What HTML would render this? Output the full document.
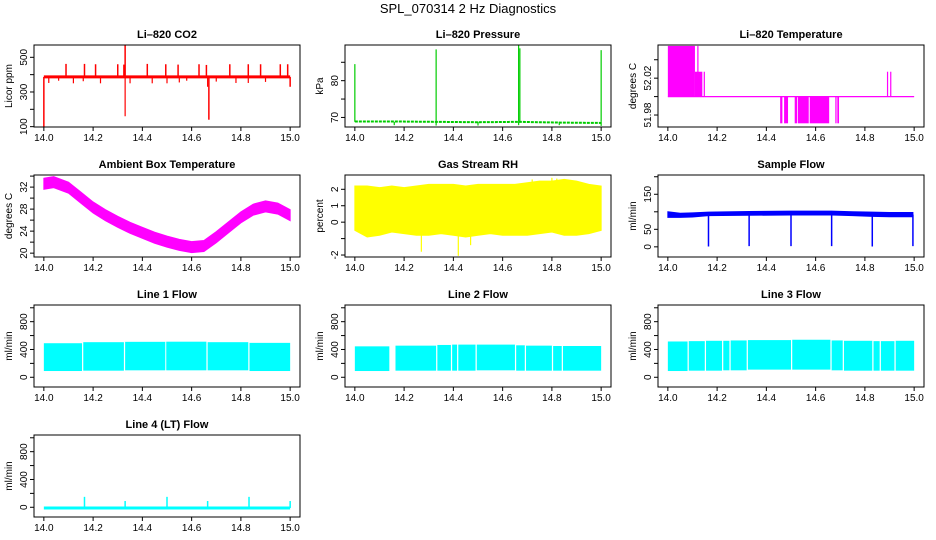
<!DOCTYPE html>
<html><head><meta charset="utf-8"><style>
html,body{margin:0;padding:0;background:#fff;}
svg{display:block;font-family:"Liberation Sans",Helvetica,Arial,sans-serif;}
</style></head><body>
<svg id="fig" width="936" height="540" viewBox="0 0 936 540">
<text x="468" y="13" font-size="13" text-anchor="middle">SPL_070314  2 Hz Diagnostics</text>
</svg>
<script>
// ---------- data ----------
const xTicks = [14.0, 14.2, 14.4, 14.6, 14.8, 15.0];
const xTickLabels = ["14.0", "14.2", "14.4", "14.6", "14.8", "15.0"];

// CO2
const co2Base = 387;
const co2SpikeX = [14.0, 14.09, 14.165, 14.21, 14.30, 14.325, 14.33, 14.42, 14.495, 14.545, 14.63, 14.66, 14.67, 14.755, 14.83, 14.88, 14.96, 14.99, 15.0];
const co2SpikeV = [100, 462, 462, 460, 460, 458, 572, 462, 460, 458, 460, 456, 140, 460, 460, 460, 460, 460, 330];
const co2DipX = [14.02, 14.06, 14.12, 14.16, 14.23, 14.33, 14.35, 14.44, 14.5, 14.55, 14.58, 14.665, 14.7, 14.78, 14.83, 14.9];
const co2DipV = [352, 365, 350, 362, 350, 160, 350, 350, 350, 355, 365, 330, 360, 352, 352, 358];

// Pressure
const presBaseX = [14.0, 14.16, 14.33, 14.5, 14.665, 14.83, 15.0];
const presBaseV = [68.9, 68.9, 68.8, 68.7, 68.8, 68.6, 68.5];
const presSpikeX = [14.0, 14.33, 14.665, 14.67, 15.0];
const presSpikeV = [84.5, 88.5, 89.6, 88.8, 88.3];
const presDipX = [14.16, 14.33, 14.5, 14.665, 14.83, 15.0];
const presDipV = [67.9, 67.8, 67.8, 67.9, 67.9, 67.7];

// Li-820 temperature
const tempBlockX0 = [14.0, 14.11, 14.456, 14.472, 14.515, 14.528, 14.576, 14.68, 14.688];
const tempBlockX1 = [14.11, 14.14, 14.465, 14.488, 14.525, 14.572, 14.655, 14.685, 14.695];
const tempBlockLo = [52.0, 52.0, 51.971, 51.971, 51.971, 51.971, 51.971, 51.971, 51.971];
const tempBlockHi = [52.055, 52.027, 52.0, 52.0, 52.0, 52.0, 52.0, 52.0, 52.0];
const tempLineX = [14.122, 14.148, 14.892, 14.905];
const tempLineV = [52.055, 52.027, 52.027, 52.027];
const tempBase = 52.0;

// Ambient box temp (band centre)
const ambX = [14.0, 14.04, 14.1, 14.15, 14.2, 14.25, 14.3, 14.35, 14.4, 14.45, 14.5, 14.55, 14.6, 14.65, 14.7, 14.75, 14.8, 14.85, 14.9, 14.95, 15.0];
const ambV = [32.6, 32.9, 31.9, 30.1, 28.3, 26.9, 25.7, 24.6, 23.7, 22.8, 22.1, 21.5, 21.1, 21.3, 22.9, 24.7, 26.5, 27.9, 28.5, 28.1, 26.9];

// RH envelope
const rhX = [14.0, 14.05, 14.1, 14.15, 14.2, 14.25, 14.3, 14.35, 14.4, 14.45, 14.5, 14.55, 14.6, 14.65, 14.7, 14.75, 14.8, 14.85, 14.9, 14.95, 15.0];
const rhHi = [2.2, 2.2, 2.1, 2.2, 2.1, 2.2, 2.3, 2.3, 2.3, 2.2, 2.3, 2.3, 2.3, 2.3, 2.4, 2.5, 2.5, 2.6, 2.5, 2.3, 2.2];
const rhLo = [-0.5, -0.9, -0.8, -0.6, -0.7, -0.8, -0.8, -0.7, -0.8, -0.9, -0.8, -0.7, -0.8, -0.8, -0.8, -0.7, -0.6, -0.8, -0.8, -0.7, -0.5];
const rhSpikeX = [14.27, 14.42, 14.47, 14.72, 14.8, 14.82];
const rhSpikeV = [-1.8, -2.05, -1.4, 2.6, 2.7, 2.65];

// Sample flow
const sfX = [14.0, 14.05, 14.1, 14.165, 14.33, 14.5, 14.665, 14.75, 14.83, 14.9, 14.995];
const sfLo = [84, 84, 85, 89, 90, 91, 91, 89, 87, 86, 86];
const sfHi = [100, 96, 97, 99, 101, 102, 102, 100, 99, 98, 98];
const sfDipX = [14.165, 14.33, 14.5, 14.665, 14.83, 14.995];
const sfDipV = [1, 2, 2, 2, 1, 2];

// Line flows (bands with gaps)
const l1SegX0 = [14.0, 14.16, 14.33, 14.497, 14.665, 14.835];
const l1SegX1 = [14.155, 14.325, 14.493, 14.66, 14.83, 15.0];
const l1Hi = [490, 505, 510, 512, 505, 495];
const l1Lo = [90, 95, 100, 100, 100, 90];
const l2SegX0 = [14.0, 14.165, 14.335, 14.395, 14.42, 14.495, 14.655, 14.695, 14.805, 14.845];
const l2SegX1 = [14.14, 14.33, 14.39, 14.415, 14.49, 14.65, 14.69, 14.8, 14.84, 15.0];
const l2Hi = [445, 455, 465, 470, 470, 470, 460, 455, 450, 450];
const l2Lo = [90, 95, 95, 95, 95, 100, 95, 95, 95, 95];
const l3SegX0 = [14.0, 14.085, 14.155, 14.225, 14.255, 14.325, 14.505, 14.665, 14.715, 14.835, 14.865, 14.925];
const l3SegX1 = [14.08, 14.15, 14.22, 14.25, 14.32, 14.5, 14.66, 14.71, 14.83, 14.86, 14.92, 15.0];
const l3Hi = [515, 520, 525, 525, 530, 535, 540, 530, 525, 520, 520, 525];
const l3Lo = [90, 95, 95, 100, 100, 110, 110, 100, 95, 95, 95, 95];
const l4Base = -10;
const l4SpikeX = [14.165, 14.33, 14.5, 14.665, 14.833, 15.0];
const l4SpikeV = [150, 90, 150, 90, 150, 90];

// ---------- drawing ----------
const NS = "http://www.w3.org/2000/svg";
const svg = document.getElementById("fig");
const XLIM = [13.96, 15.04];
const COLS = [34, 345, 658], ROWS = [45, 175, 305, 435], W = 266, H = 82;

function mk(tag, attrs, parent) {
  const e = document.createElementNS(NS, tag);
  for (const k in attrs) e.setAttribute(k, attrs[k]);
  (parent || svg).appendChild(e);
  return e;
}

function panel(name, col, row, title, ylab, ylim, yticks, ylabels) {
  const L = COLS[col], T = ROWS[row];
  const g = mk("g", {});
  
  
  const sx = v => L + (v - XLIM[0]) / (XLIM[1] - XLIM[0]) * W;
  const sy = v => T + H - (v - ylim[0]) / (ylim[1] - ylim[0]) * H;
  const plot = mk("g", {}, g);
  
  
  const box = mk("rect", {x: L, y: T, width: W, height: H, fill: "none", stroke: "#000", "stroke-width": 1}, g);
  
  
  const tt = mk("text", {x: L + W / 2, y: T - 7, "font-size": 11, "font-weight": "bold", "text-anchor": "middle"}, g);
  tt.textContent = title;
  
  
  const xa = mk("g", {}, g);
  
  
  xTicks.forEach((v, i) => {
    mk("line", {x1: sx(v), x2: sx(v), y1: T + H, y2: T + H + 4, stroke: "#000"}, xa);
    const t = mk("text", {x: sx(v), y: T + H + 14, "font-size": 10, "text-anchor": "middle"}, xa);
    t.textContent = xTickLabels[i];
  });
  const ya = mk("g", {}, g);
  
  
  yticks.forEach(v => {
    mk("line", {x1: L - 4, x2: L, y1: sy(v), y2: sy(v), stroke: "#000"}, ya);
  });
  ylabels.forEach(v => {
    const t = mk("text", {x: 0, y: 0, "font-size": 10, "text-anchor": "middle",
      transform: `translate(${L - 7},${sy(v)}) rotate(-90)`}, ya);
    t.textContent = String(v);
  });
  const yl = mk("text", {x: 0, y: 0, "font-size": 10, "text-anchor": "middle",
    transform: `translate(${L - 22},${T + H / 2}) rotate(-90)`}, g);
  yl.textContent = ylab;
  
  
  return {sx, sy, g: plot};
}

function vline(p, x, v0, v1, color, w) {
  return mk("line", {x1: p.sx(x), x2: p.sx(x), y1: p.sy(v0), y2: p.sy(v1), stroke: color, "stroke-width": w || 1}, p.g);
}
function band(p, xs, lo, hi, color) {
  let d = "M" + xs.map((x, i) => p.sx(x) + "," + p.sy(hi[i])).join("L");
  for (let i = xs.length - 1; i >= 0; i--) d += "L" + p.sx(xs[i]) + "," + p.sy(lo[i]);
  return mk("path", {d: d + "Z", fill: color, stroke: color, "stroke-width": 1}, p.g);
}
function rectv(p, x0, x1, lo, hi, color) {
  return mk("rect", {x: p.sx(x0), y: p.sy(hi), width: Math.max(1, p.sx(x1) - p.sx(x0)), height: p.sy(lo) - p.sy(hi), fill: color}, p.g);
}

// CO2
let p = panel("co2", 0, 0, "Li–820 CO2", "Licor ppm", [98, 571], [100, 200, 300, 400, 500], [100, 300, 500]);
mk("line", {x1: p.sx(14.0), x2: p.sx(15.0), y1: p.sy(co2Base), y2: p.sy(co2Base), stroke: "red", "stroke-width": 3}, p.g);
co2SpikeX.forEach((x, i) => vline(p, x, co2Base, co2SpikeV[i], "red", 1.5));
co2DipX.forEach((x, i) => vline(p, x, co2Base, co2DipV[i], "red", 1.2));

// Pressure
p = panel("pressure", 1, 0, "Li–820 Pressure", "kPa", [67.4, 89.7], [70, 75, 80, 85], [70, 80]);
mk("polyline", {points: presBaseX.map((x, i) => p.sx(x) + "," + p.sy(presBaseV[i])).join(" "), fill: "none", stroke: "#0c0", "stroke-width": 2, "stroke-dasharray": "3,1"}, p.g);
presSpikeX.forEach((x, i) => vline(p, x, 68.8, presSpikeV[i], "#0c0", 1.2));
presDipX.forEach((x, i) => vline(p, x, 68.8, presDipV[i], "#0c0", 1.2));

// Temperature
p = panel("li820-temp", 2, 0, "Li–820 Temperature", "degrees C", [51.967, 52.056], [51.98, 52.0, 52.02, 52.04], ["51.98", "52.02"]);
mk("line", {x1: p.sx(14.0), x2: p.sx(15.0), y1: p.sy(tempBase), y2: p.sy(tempBase), stroke: "#f0f", "stroke-width": 1.2}, p.g);
tempBlockX0.forEach((x, i) => rectv(p, x, tempBlockX1[i], tempBlockLo[i], tempBlockHi[i], "#f0f"));
tempLineX.forEach((x, i) => vline(p, x, tempBase, tempLineV[i], "#f0f", 1.2));

// Ambient
p = panel("ambient-temp", 0, 1, "Ambient Box Temperature", "degrees C", [19.3, 34.2], [20, 22, 24, 26, 28, 30, 32, 34], [20, 24, 28, 32]);
band(p, ambX, ambV.map(v => v - 1.0), ambV.map(v => v + 1.0), "#f0f");

// RH
p = panel("gas-rh", 1, 1, "Gas Stream RH", "percent", [-2.12, 2.87], [-2, -1, 0, 1, 2], [-2, 0, 1, 2]);
band(p, rhX, rhLo, rhHi, "#ff0");
rhSpikeX.forEach((x, i) => vline(p, x, 0.8, rhSpikeV[i], "#ff0", 1.2));

// Sample flow
p = panel("sample-flow", 2, 1, "Sample Flow", "ml/min", [-29, 205], [0, 50, 100, 150, 200], [0, 50, 150]);
band(p, sfX, sfLo, sfHi, "#00f");
sfDipX.forEach((x, i) => vline(p, x, 92, sfDipV[i], "#00f", 1.5));

// Line flows
function flow(name, col, row, title, x0, x1, hi, lo) {
  const q = panel(name, col, row, title, "ml/min", [-140, 1040], [0, 200, 400, 600, 800, 1000], [0, 400, 800]);
  x0.forEach((x, i) => rectv(q, x, x1[i], lo[i], hi[i], "#0ff"));
  return q;
}
flow("line1-flow", 0, 2, "Line 1 Flow", l1SegX0, l1SegX1, l1Hi, l1Lo);
flow("line2-flow", 1, 2, "Line 2 Flow", l2SegX0, l2SegX1, l2Hi, l2Lo);
flow("line3-flow", 2, 2, "Line 3 Flow", l3SegX0, l3SegX1, l3Hi, l3Lo);
p = panel("line4-flow", 0, 3, "Line 4 (LT) Flow", "ml/min", [-140, 1040], [0, 200, 400, 600, 800, 1000], [0, 400, 800]);
mk("line", {x1: p.sx(14.0), x2: p.sx(15.0), y1: p.sy(l4Base), y2: p.sy(l4Base), stroke: "#0ff", "stroke-width": 3}, p.g);
l4SpikeX.forEach((x, i) => vline(p, x, l4Base, l4SpikeV[i], "#0ff", 1.5));
</script>
</body></html>
